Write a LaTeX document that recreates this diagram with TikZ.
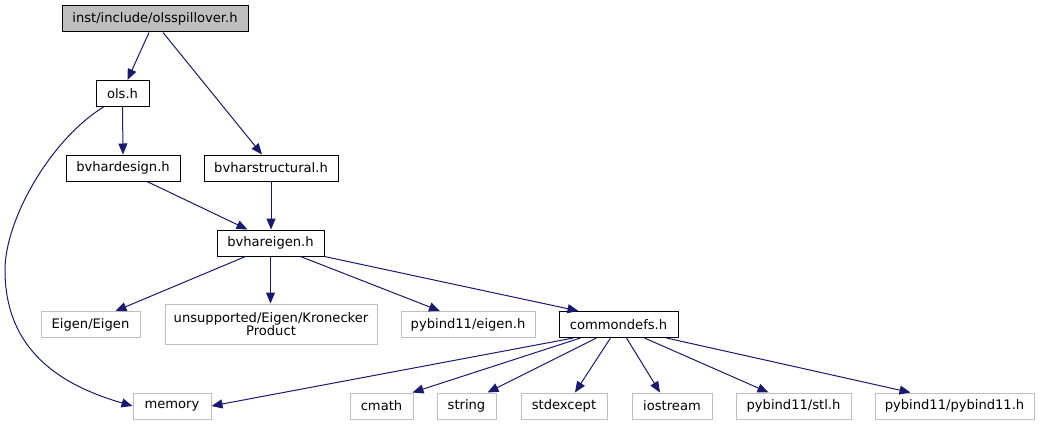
\documentclass[tikz,border=0pt]{standalone}
\usepackage{fontspec}
\setmainfont{DejaVu Sans}
\usepackage{tikz}
\usepackage{xcolor}
\usetikzlibrary{arrows.meta,positioning,calc}
\definecolor{edgeblue}{HTML}{191970}
\definecolor{rootgray}{HTML}{BFBFBF}
\definecolor{extgray}{HTML}{BFBFBF}
\tikzset{
  filebox/.style={
    draw=black,
    fill=white,
    line width=1pt,
    align=center,
    inner sep=0pt,
    minimum height=26pt,
    font=\fontsize{13.1}{13.5}\selectfont
  },
  rootbox/.style={filebox, fill=rootgray},
  extbox/.style={filebox, draw=extgray},
  incarrow/.style={-{Triangle[length=11pt,width=9pt]}, line width=1pt, draw=edgeblue}
}
\begin{document}
\begin{tikzpicture}[x=1pt,y=-1pt]
\useasboundingbox (0,0) rectangle (1040,425);

\node[rootbox, minimum width=186pt] (root) at (155,19) {inst/include/olsspillover.h};
\node[filebox, minimum width=53pt] (ols) at (122.5,93.5) {ols.h};
\node[filebox, minimum width=114pt] (design) at (123,168) {bvhardesign.h};
\node[filebox, minimum width=134pt] (structural) at (271,168) {bvharstructural.h};
\node[filebox, minimum width=107pt] (eigenh) at (270.5,243) {bvhareigen.h};
\node[extbox, minimum width=99pt] (eigen) at (90.5,324.5) {Eigen/Eigen};
\node[extbox, minimum width=212pt, minimum height=40pt] (kron) at (271,324) {unsupported/Eigen/Kronecker\\Product};
\node[extbox, minimum width=134pt] (pyeigen) at (468,324.5) {pybind11/eigen.h};
\node[filebox, minimum width=119pt] (common) at (618.5,324.5) {commondefs.h};

\node[extbox, minimum width=78pt] (memory) at (172,406) {memory};
\node[extbox, minimum width=63pt] (cmath) at (381.5,406) {cmath};
\node[extbox, minimum width=59pt] (string) at (466.5,406) {string};
\node[extbox, minimum width=86pt] (stdexcept) at (564,406) {stdexcept};
\node[extbox, minimum width=80pt] (iostream) at (672,406) {iostream};
\node[extbox, minimum width=115pt] (stl) at (793.5,406) {pybind11/stl.h};
\node[extbox, minimum width=159pt] (pybind) at (954.5,406) {pybind11/pybind11.h};

\draw[incarrow] ([xshift=-6pt]root.south) -- ([xshift=5pt]ols.north);
\draw[incarrow] ([xshift=8pt]root.south) -- ([xshift=-9pt]structural.north);
\draw[incarrow] (ols.south) -- (design.south |- design.north);
\draw[incarrow] ([xshift=-19pt]ols.south) .. controls (50,140) and (5,220) .. (5,270)
  .. controls (5,350) and (60,385) .. (memory.west);
\draw[incarrow] ([xshift=24pt]design.south) -- ([xshift=-23pt]eigenh.north);
\draw[incarrow] (structural.south) -- (structural.south |- eigenh.north);
\draw[incarrow] ([xshift=-25pt]eigenh.south) -- ([xshift=25pt]eigen.north);
\draw[incarrow] (eigenh.south) -- (eigenh.south |- kron.north);
\draw[incarrow] ([xshift=30pt]eigenh.south) -- ([xshift=-28pt]pyeigen.north);
\draw[incarrow] (eigenh.south east) -- ([xshift=-40pt]common.north);
\draw[incarrow] ([xshift=-45pt]common.south) -- (memory.east);
\draw[incarrow] ([xshift=-38pt]common.south) -- ([xshift=31pt]cmath.north);
\draw[incarrow] ([xshift=-22pt]common.south) -- ([xshift=21pt]string.north);
\draw[incarrow] ([xshift=-8pt]common.south) -- ([xshift=11pt]stdexcept.north);
\draw[incarrow] ([xshift=8pt]common.south) -- ([xshift=-12pt]iostream.north);
\draw[incarrow] ([xshift=26pt]common.south) -- ([xshift=-25pt]stl.north);
\draw[incarrow] ([xshift=48pt]common.south) -- ([xshift=-44pt]pybind.north);
\end{tikzpicture}
\end{document}
